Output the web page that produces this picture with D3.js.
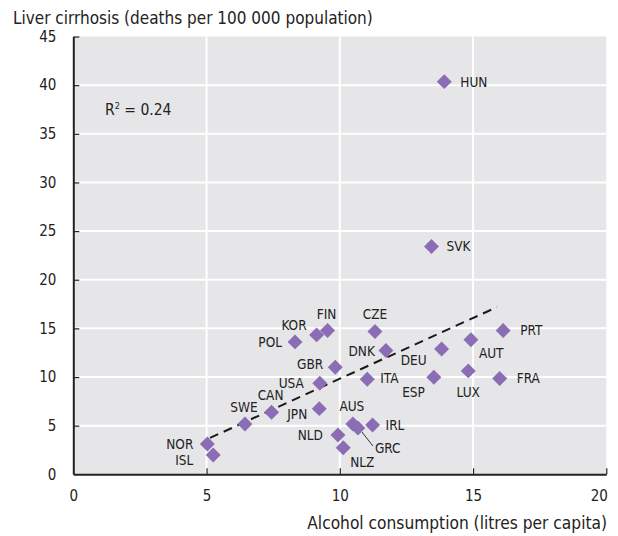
<!DOCTYPE html>
<html>
<head>
<meta charset="utf-8">
<script src="https://cdn.jsdelivr.net/npm/d3@7"></script>
<style>
  body { margin:0; background:#fff; }
  svg text { font-family:"DejaVu Sans Condensed",sans-serif; fill:#222; }
</style>
</head>
<body>
<svg width="618" height="536"></svg>
<script>
// countries, alcohol (litres per capita), cirrhosis deaths per 100 000
const countries = ["HUN","SVK","PRT","CZE","FIN","KOR","POL","DNK","GBR","USA","ITA","JPN","CAN","SWE","AUS","GRC","IRL","NLD","NLZ","NOR","ISL","DEU","AUT","ESP","LUX","FRA"]
const alcohol   = [13.92,13.44,16.13,11.32,9.54,9.13,8.32,11.73,9.83,9.25,11.03,9.23,7.44,6.44,10.49,10.68,11.23,9.93,10.13,5.03,5.25,13.82,14.92,13.53,14.82,16.0]
const cirrhosis = [40.36,23.42,14.77,14.67,14.77,14.33,13.61,12.72,11.01,9.36,9.77,6.75,6.38,5.17,5.17,4.76,5.07,4.04,2.74,3.12,1.99,12.89,13.82,9.98,10.63,9.84]
const xTicks = [0,5,10,15,20]
const yTicks = [0,5,10,15,20,25,30,35,40,45]
// fitted trend line (slope, intercept, x range) and R2
const trendCoef = [1.249,-2.67]
const trendRange = [5.13,15.89]
const rSquared = "0.24"

const DATA = countries.map((c,i)=>({name:c,x:alcohol[i],y:cirrhosis[i]}))

// label placement relative to the marker: dx, dy, anchor
const labelPos = {
  HUN:[16,0,'start'], SVK:[15,0,'start'], PRT:[17,0,'start'], FRA:[17,0,'start'],
  AUT:[8,13,'start'], LUX:[0,21,'middle'], ESP:[-9,15,'end'], DEU:[-15,11,'end'],
  ITA:[13,-1,'start'], DNK:[-11,1,'end'], CZE:[0,-17,'middle'], FIN:[-1,-16,'middle'],
  KOR:[-10,-10,'end'], POL:[-13,0,'end'], GBR:[-12,-3,'end'], USA:[-16,0,'end'],
  CAN:[-1,-17,'middle'], SWE:[-1,-17,'middle'], JPN:[-12,6,'end'], AUS:[-1,-18,'middle'],
  IRL:[13,0,'start'], NLD:[-15,0,'end'], GRC:[17,20,'start'], NLZ:[7,14,'start'],
  NOR:[-14,0,'end'], ISL:[-20,5,'end']
}

const svg = d3.select('svg')
const xScale = d3.scaleLinear().domain([0,20]).range([73.3,606.3])
const yScale = d3.scaleLinear().domain([0,45]).range([474.3,36.5])

// plot background
svg.append('rect')
.attr('x',xScale(0)).attr('y',yScale(45))
.attr('width',xScale(20)-xScale(0)).attr('height',yScale(0)-yScale(45))
.attr('fill','#e6e6e8')

// grid
svg.append('g').selectAll('line')
.data(yTicks.slice(1,-1))
.enter().append('line')
.attr('x1',xScale(0)).attr('x2',xScale(20))
.attr('y1',d=>yScale(d)).attr('y2',d=>yScale(d))
.attr('stroke','#fff').attr('stroke-width',2)

svg.append('g').selectAll('line')
.data(xTicks.slice(1,-1))
.enter().append('line')
.attr('x1',d=>xScale(d)).attr('x2',d=>xScale(d))
.attr('y1',yScale(0)).attr('y2',yScale(45))
.attr('stroke','#fff').attr('stroke-width',2)

// axes
const xAxis = svg.append('g')
.attr('transform',`translate(0,${yScale(0)})`)
.call(d3.axisBottom(xScale).tickValues(xTicks).tickSizeInner(-6).tickSizeOuter(0).tickPadding(16))
const yAxis = svg.append('g')
.attr('transform',`translate(${xScale(0)},0)`)
.call(d3.axisLeft(yScale).tickValues(yTicks).tickSizeInner(-6).tickSizeOuter(0).tickPadding(17))

for (const ax of [xAxis,yAxis]) {
  ax.select('.domain').attr('stroke','#222').attr('stroke-width',2)
  ax.selectAll('.tick line').attr('stroke','#222').attr('stroke-width',1.2)
  ax.selectAll('.tick text').attr('font-size',15).attr('fill','#222')
    .attr('font-family','"DejaVu Sans Condensed",sans-serif')
}
xAxis.selectAll('.tick').filter(d=>d==20).select('text').attr('text-anchor','end').attr('x',1)
yAxis.selectAll('.tick').filter(d=>d==0).select('line').remove()
xAxis.selectAll('.tick').filter(d=>d==0).select('line').remove()

// trend line
svg.append('line')
.attr('x1',xScale(trendRange[0])).attr('y1',yScale(trendCoef[0]*trendRange[0]+trendCoef[1]))
.attr('x2',xScale(trendRange[1])).attr('y2',yScale(trendCoef[0]*trendRange[1]+trendCoef[1]))
.attr('stroke','#1a1a1a').attr('stroke-width',2).attr('stroke-dasharray','9,6')

// GRC leader line
const grc = DATA.find(d=>d.name=='GRC')
svg.append('line')
.attr('x1',xScale(grc.x)+4).attr('y1',yScale(grc.y)+4)
.attr('x2',xScale(grc.x)+15).attr('y2',yScale(grc.y)+18)
.attr('stroke','#333').attr('stroke-width',1)

// points
svg.append('g').selectAll('path')
.data(DATA)
.enter().append('path')
.attr('d',d3.symbol(d3.symbolSquare).size(112))
.attr('transform',d=>`translate(${xScale(d.x)},${yScale(d.y)}) rotate(45)`)
.attr('fill','#8a6db5')

// labels
svg.append('g').selectAll('text')
.data(DATA)
.enter().append('text')
.attr('x',d=>xScale(d.x)+labelPos[d.name][0])
.attr('y',d=>yScale(d.y)+labelPos[d.name][1])
.attr('dy','0.36em')
.attr('text-anchor',d=>labelPos[d.name][2])
.attr('font-size',13.5)
.attr('fill','#333')
.text(d=>d.name)

// R2
const r2 = svg.append('text').attr('x',105).attr('y',115).attr('font-size',15.5)
r2.append('tspan').text('R')
r2.append('tspan').attr('font-size',9).attr('dy',-6).text('2')
r2.append('tspan').attr('dy',6).text(' = ' + rSquared)

// titles
svg.append('text').attr('x',13).attr('y',24).attr('font-size',17)
.text('Liver cirrhosis (deaths per 100 000 population)')
svg.append('text').attr('x',607).attr('y',529).attr('font-size',17.2).attr('text-anchor','end')
.text('Alcohol consumption (litres per capita)')
</script>
</body>
</html>
